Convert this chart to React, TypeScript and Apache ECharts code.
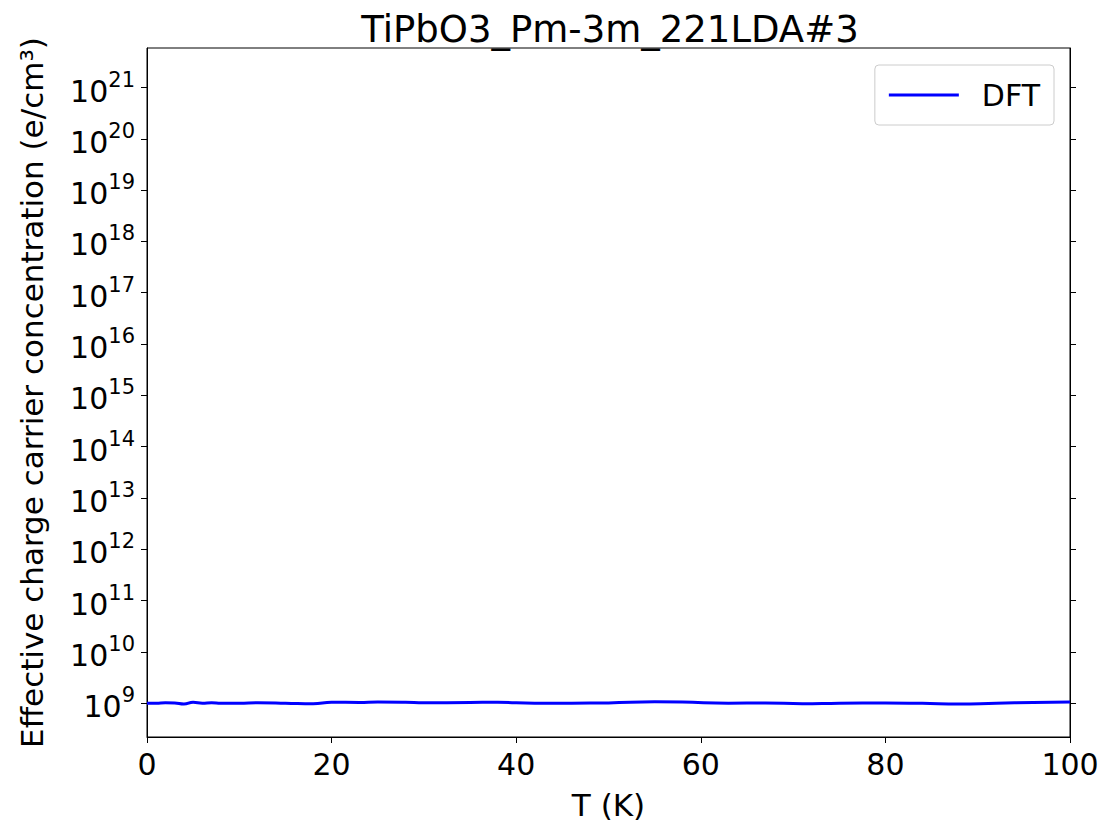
import { useEffect, useRef } from "react";
import * as echarts from "echarts";

const temps = [0, 1, 2, 3, 4, 5, 6, 7, 8, 10, 12, 15, 18, 20, 23, 25, 28, 30, 35, 38, 42, 46, 50, 55, 58, 63, 67, 71, 75, 80, 84, 88, 92, 96, 100];
const conc = [1.0e9, 1.0e9, 1.02e9, 1.01e9, 0.96e9, 1.04e9, 1.0e9, 1.02e9, 1.0e9, 1.0e9, 1.02e9, 1.0e9, 0.97e9, 1.04e9, 1.03e9, 1.05e9, 1.04e9, 1.02e9, 1.03e9, 1.04e9, 1.0e9, 1.0e9, 1.01e9, 1.06e9, 1.05e9, 1.0e9, 1.01e9, 0.97e9, 1.0e9, 1.01e9, 0.99e9, 0.96e9, 1.0e9, 1.03e9, 1.05e9];
const decades = [9, 10, 11, 12, 13, 14, 15, 16, 17, 18, 19, 20, 21];

export default function App() {
  const chartRef = useRef<HTMLDivElement>(null);

  useEffect(() => {
    if (!chartRef.current) return;
    const chart = echarts.init(chartRef.current, null, { renderer: "svg" });
    const font = "DejaVu Sans";
    const label = {
      fontSize: 30,
      fontFamily: font,
      color: "#000",
      formatter: (v: number) => `{b|10}{s|${Math.round(v)}}`,
      rich: {
        b: { fontSize: 30, fontFamily: font, color: "#000", verticalAlign: "bottom" as const },
        s: { fontSize: 21, fontFamily: font, color: "#000", padding: [0, 0, 16, 0] },
      },
    };
    chart.setOption({
      animation: false,
      title: {
        text: "TiPbO3_Pm-3m_221LDA#3",
        left: 597,
        textAlign: "center",
        top: -2,
        textStyle: { fontSize: 37, fontWeight: "normal", fontFamily: font, color: "#000" },
      },
      legend: {
        right: 50,
        top: 57,
        itemWidth: 70,
        itemHeight: 3,
        padding: [15, 14],
        borderColor: "#ccc",
        borderWidth: 1,
        borderRadius: 4,
        textStyle: { fontSize: 30, fontFamily: font, color: "#000", padding: [0, 0, 0, 18] },
        data: [{ name: "DFT", icon: "rect" }],
      },
      grid: { left: 132, right: 34, top: 40, bottom: 83, show: true, borderColor: "#000", borderWidth: 1 },
      xAxis: {
        type: "value",
        min: 0,
        max: 100,
        interval: 20,
        name: "T (K)",
        nameLocation: "middle",
        nameGap: 52,
        nameTextStyle: { fontSize: 31, fontFamily: font, color: "#000" },
        axisLine: { lineStyle: { color: "#000" } },
        axisTick: { length: 6, inside: false, lineStyle: { color: "#000" } },
        axisLabel: { fontSize: 30, fontFamily: font, color: "#000", margin: 12 },
        splitLine: { show: false },
      },
      yAxis: [
        {
          type: "value",
          min: 8.34,
          max: 21.77,
          name: "Effective charge carrier concentration (e/cm³)",
          nameLocation: "middle",
          nameGap: 100,
          nameTextStyle: { fontSize: 31, fontFamily: font, color: "#000" },
          axisLine: { show: true, lineStyle: { color: "#000" } },
          axisTick: { show: true, length: 6, customValues: decades, lineStyle: { color: "#000" } },
          axisLabel: { ...label, customValues: decades, margin: 12 },
          splitLine: { show: false },
        },
        {
          type: "value",
          min: 8.34,
          max: 21.77,
          position: "right",
          axisLine: { show: true, lineStyle: { color: "#000" } },
          axisTick: { show: true, length: 6, customValues: decades, lineStyle: { color: "#000" } },
          axisLabel: { show: false, customValues: decades },
          splitLine: { show: false },
        },
      ],
      series: [
        {
          name: "DFT",
          type: "line",
          showSymbol: false,
          smooth: true,
          color: "#0000ff",
          lineStyle: { width: 3, color: "#0000ff" },
          data: temps.map((t, i) => [t, Math.log10(conc[i])]),
        },
      ],
    });
    return () => chart.dispose();
  }, []);

  return <div ref={chartRef} style={{ width: 1096, height: 817 }} />;
}
